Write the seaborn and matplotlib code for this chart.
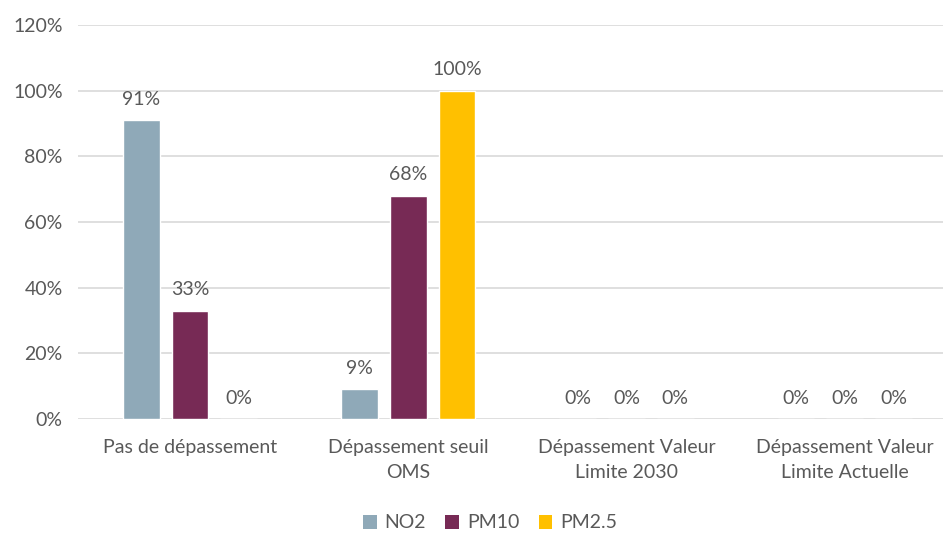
import matplotlib
matplotlib.use("Agg")
import matplotlib.pyplot as plt
import seaborn as sns
import pandas as pd
from matplotlib.patches import Patch

categories = ["Pas de dépassement", "Dépassement seuil\nOMS",
              "Dépassement Valeur\nLimite 2030", "Dépassement Valeur\nLimite Actuelle"]
pollutants = ["NO2", "PM10", "PM2.5"]
no2 = [91, 9, 0, 0]
pm10 = [33, 68, 0, 0]
pm25 = [0, 100, 0, 0]
y_ticks = [0, 20, 40, 60, 80, 100, 120]

colors = ["#8FA9B8", "#772A55", "#FFC000"]
text_col = "#595959"
fs = 14

rows = []
for name, vals in zip(pollutants, [no2, pm10, pm25]):
    for cat, v in zip(categories, vals):
        rows.append({"cat": cat, "pol": name, "val": v})
df = pd.DataFrame(rows)

sns.set_theme(style="white")
plt.rcParams["font.family"] = ["Lato", "DejaVu Sans"]

fig = plt.figure(figsize=(9.43, 5.34), dpi=100)
ax = fig.add_axes([78 / 943, 115 / 534, 865 / 943, 394 / 534])

sns.barplot(data=df, x="cat", y="val", hue="pol", order=categories,
            hue_order=pollutants, palette=colors, width=0.67, gap=0.245,
            legend=False, ax=ax, saturation=1)

ax.set_ylim(0, 120)
ax.set_xlim(-0.513, 3.45)
ax.set_yticks(y_ticks)
ax.set_yticklabels([f"{t}%" for t in y_ticks], color=text_col, fontsize=fs)
ax.tick_params(axis="x", colors=text_col, labelsize=fs, length=0, pad=14.5)
ax.tick_params(axis="y", length=0, pad=11)
for lab in ax.get_xticklabels():
    lab.set_linespacing(1.55)
ax.set_xlabel("")
ax.set_ylabel("")
ax.grid(axis="y", color="#D9D9D9", linewidth=1.2)
ax.set_axisbelow(True)
for s in ax.spines.values():
    s.set_visible(False)

for cont in ax.containers:
    for bar in cont:
        h = bar.get_height()
        ax.annotate(f"{h:.0f}%", (bar.get_x() + bar.get_width() / 2, h),
                    xytext=(0, 9), textcoords="offset points",
                    ha="center", va="bottom", color=text_col, fontsize=fs)

handles = [Patch(facecolor=c, edgecolor="none") for c in colors]
fig.legend(handles, pollutants, loc="center", bbox_to_anchor=(490 / 943, 1 - 523 / 534),
           ncol=3, frameon=False, fontsize=fs, handlelength=0.7, handleheight=0.7,
           handletextpad=0.4, columnspacing=1.0, labelcolor=text_col)

fig.savefig("out.png", dpi=100)
